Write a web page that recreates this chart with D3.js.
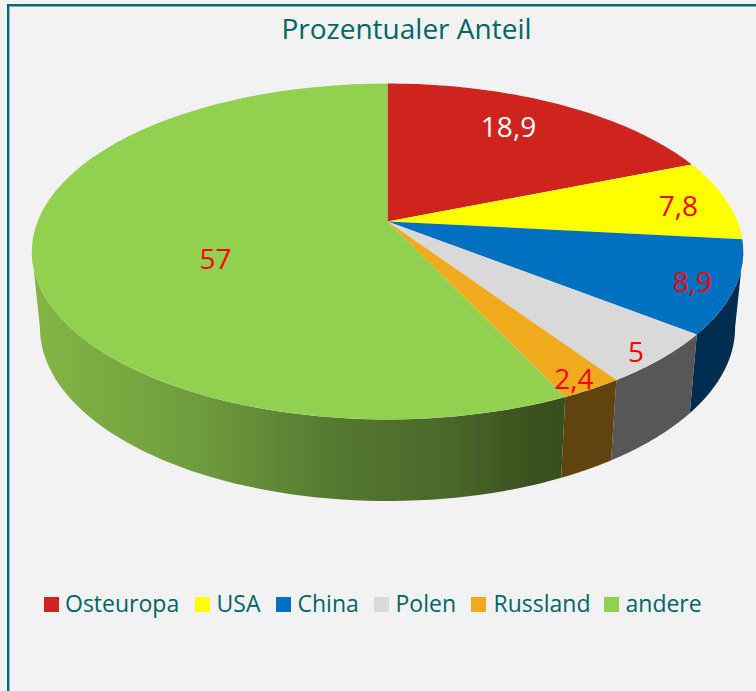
<!DOCTYPE html>
<html><head><meta charset="utf-8">
<script src="https://d3js.org/d3.v7.min.js"></script>
<style>html,body{margin:0;padding:0;background:#f2f2f2;overflow:hidden}svg{display:block}</style>
</head><body><svg id="c" width="756" height="691"></svg>
<script>
const categories = ["Osteuropa","USA","China","Polen","Russland","andere"];
const shares = [18.9,7.8,8.9,5,2.4,57];
const shareLabels = ["18,9","7,8","8,9","5","2,4","57"];
const topColors = ["#cf231d","#ffff00","#0070c0","#d9d9d9","#f0aa1e","#92d050"];
const sideColors = ["#6e120f","#7f7f00","#002d50","#575757","#60430f","#374f1d"];
const labelColors = ["#ffffff","#ff0000","#ff0000","#ff0000","#ff0000","#ff0000"];
const title = "Prozentualer Anteil";

const svg = d3.select("#c");
const defs = svg.append("defs");
svg.append("rect").attr("width",756).attr("height",691).attr("fill","#f2f2f2");
svg.append("path").attr("d","M8.2,691V5.2H756").attr("fill","none").attr("stroke","#006a7d").attr("stroke-width",2.4);

// Perspective projection of the disc
const K = 0.1786;
const CX = 387.5;
const project = (a, plane) => {
  const u = Math.sin(a), v = -Math.cos(a), w = 1 - K*v;
  return [CX + plane.A*u/w, plane.y0 + plane.B*v/w];
};
const TOP = {A:350, B:162.6, y0:221.5};
const BOT = {A:342, B:168, y0:296.5};
const line = d3.line();
const arcPts = (a0,a1,plane) => d3.range(0,61).map(i=>project(a0+(a1-a0)*i/60,plane));

const pie = d3.pie().value(d=>d).sort(null)(shares);
const vis0 = Math.acos(-K), vis1 = 2*Math.PI - vis0;

const grad = defs.append("linearGradient").attr("id","g").attr("gradientUnits","userSpaceOnUse")
  .attr("x1",39).attr("x2",565).attr("y1",0).attr("y2",0);
[[0,"#82b545"],[0.3,"#6f9c3d"],[0.55,"#567a31"],[0.78,"#4a682a"],[0.93,"#3a5220"],[1,"#374f1e"]].forEach(s=>
  grad.append("stop").attr("offset",s[0]).attr("stop-color",s[1]));

// sides
pie.forEach((d,i)=>{
  const a0=Math.max(d.startAngle,vis0), a1=Math.min(d.endAngle,vis1);
  if(a1<=a0) return;
  const pts=arcPts(a0,a1,TOP).concat(arcPts(a1,a0,BOT));
  svg.append("path").attr("d",line(pts)+"Z")
    .attr("fill",categories[i]==="andere"?"url(#g)":sideColors[i]);
});
// tops
pie.forEach((d,i)=>{
  const pts=[[CX,221.5]].concat(arcPts(d.startAngle,d.endAngle,TOP));
  svg.append("path").attr("d",line(pts)+"Z").attr("fill",topColors[i]);
});

const font="'Open Sans','Noto Sans',sans-serif";
const labelPos = [[508.5,127],[678.5,206],[692.5,282],[636,352],[574,379],[215.5,259]];
shareLabels.forEach((t,i)=>{
  svg.append("text").text(t).attr("x",labelPos[i][0]).attr("y",labelPos[i][1]).attr("dy","0.36em")
   .attr("text-anchor","middle").attr("font-family",font).attr("font-size",28).attr("fill",labelColors[i]);
});
svg.append("text").text(title).attr("x",406.5).attr("y",39).attr("text-anchor","middle")
  .attr("font-family",font).attr("font-size",28).attr("fill","#006666");

const legendSwatch=[44,195,276,374,471,604];
const legendText=[65,216.5,297.5,395.5,493.5,625.5];
legendText.forEach((x,i)=>{
  svg.append("rect").attr("x",legendSwatch[i]).attr("y",597).attr("width",15).attr("height",15).attr("fill",topColors[i]);
  svg.append("text").text(categories[i]).attr("x",x).attr("y",612).attr("font-family",font).attr("font-size",23).attr("fill","#006666");
});
</script></body></html>
